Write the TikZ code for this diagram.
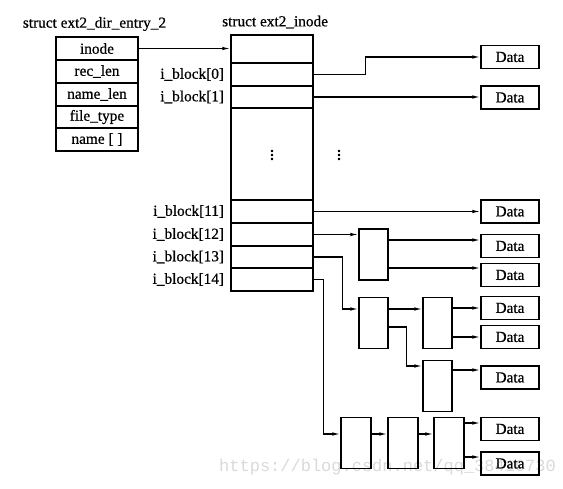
\documentclass[tikz,border=0pt]{standalone}
\usepackage{fontspec}
\setmainfont{Liberation Serif}[FakeBold=0.6]
\newfontfamily\wmfont{Liberation Mono}
\usetikzlibrary{arrows.meta,calc}
\begin{document}
\begin{tikzpicture}[x=1pt,y=-1pt,
  txt/.style={font=\fontsize{15.3}{17}\selectfont, inner sep=0pt},
  cell/.style={draw, line width=1.5pt, minimum width=82pt, inner sep=0pt, font=\fontsize{15.3}{17}\selectfont},
  ptr/.style={draw, line width=1.5pt, minimum width=29pt, minimum height=51pt, inner sep=0pt},
  databox/.style={draw, line width=1.5pt, minimum width=58pt, minimum height=23pt, inner sep=0pt, font=\fontsize{15.3}{17}\selectfont},
  dots/.style={font=\fontsize{19}{20}\selectfont\boldmath, inner sep=0pt},
  arr/.style={line width=1.2pt, -{Latex[length=8pt,width=3.6pt]}}]
\useasboundingbox (0,0) rectangle (563,489);

% watermark
\node[font=\wmfont\fontsize{17}{17}\selectfont, text=gray!30, anchor=west, inner sep=0pt] (wm) at (219,467) {https://blog.csdn.net/qq\_38410730};

% titles
\node[txt] (t1) at (94.5,24) {struct ext2\_dir\_entry\_2};
\node[txt, anchor=west] (t2) at (222,22) {struct ext2\_inode};

% dir entry
\node[cell, minimum height=23pt] (e1) at (97,48.5) {inode};
\node[cell, minimum height=23pt] (e2) at (97,71.5) {rec\_len};
\node[cell, minimum height=23pt] (e3) at (97,94.5) {name\_len};
\node[cell, minimum height=22pt] (e4) at (97,117) {file\_type};
\node[cell, minimum height=23pt] (e5) at (97,139.5) {name [ ]};

% inode
\node[cell, minimum height=28pt] (itop) at (272,49) {};
\node[cell, minimum height=23pt] (ib0) at (272,74.5) {};
\node[cell, minimum height=22pt] (ib1) at (272,97) {};
\node[cell, minimum height=92pt] (imid) at (272,154) {};
\node[cell, minimum height=23pt] (ib11) at (272,211.5) {};
\node[cell, minimum height=23pt] (ib12) at (272,234.5) {};
\node[cell, minimum height=22pt] (ib13) at (272,257) {};
\node[cell, minimum height=23pt] (ib14) at (272,279.5) {};
\node[dots] (vd1) at (272,152) {$\vdots$};
\node[dots] (vd2) at (339,152) {$\vdots$};

% labels
\foreach \n/\t in {ib0/0,ib1/1,ib11/11,ib12/12,ib13/13,ib14/14}
  \node[txt, anchor=east] (l\n) at ([xshift=-6pt]\n.west) {i\_block[\t]};

% pointer blocks
\node[ptr] (s1) at (373.5,254.5) {};
\node[ptr] (dA) at (373.5,323) {};
\node[ptr] (dB) at (437.5,323) {};
\node[ptr] (dC) at (437.5,386) {};
\node[ptr, minimum width=30pt] (tD) at (356,443) {};
\node[ptr, minimum width=30pt] (tE) at (403,443) {};
\node[ptr, minimum width=30pt] (tF) at (449,443) {};

% data blocks
\node[databox] (d0) at (510,57) {Data};
\node[databox] (d1) at (510,97.5) {Data};
\node[databox] (d11) at (510,211.5) {Data};
\node[databox] (d12a) at (510,246) {Data};
\node[databox] (d12b) at (510,275) {Data};
\node[databox] (d13a) at (510,308) {Data};
\node[databox] (d13b) at (510,337) {Data};
\node[databox] (d13c) at (510,377.5) {Data};
\node[databox] (d14a) at (510,429) {Data};
\node[databox] (d14b) at (510,463.5) {Data};

% connectors
\draw[arr] (e1.east) -- (e1.east -| itop.west);
\draw[arr] (ib0.east) -- ++(52,0) |- (d0.west);
\draw[arr] (ib1.east) -- (ib1.east -| d1.west);
\draw[arr] (ib11.east) -- (d11.west);
\draw[arr] (ib12.east) -- (ib12.east -| s1.west);
\draw[arr] ([yshift=14.5pt]s1.east) -- ([yshift=6pt]d12a.west);
\draw[arr] ([yshift=-13.5pt]s1.east) -- ([yshift=7pt]d12b.west);
\draw[arr] (ib13.east) -- ++(29,0) |- ([yshift=14pt]dA.west);
\draw[arr] ([yshift=14pt]dA.east) -- ([yshift=14pt]dB.west);
\draw[arr] ([yshift=-4pt]dA.east) -- ++(18,0) |- ([yshift=20pt]dC.west);
\draw[arr] ([yshift=15pt]dB.east) -- (d13a.west);
\draw[arr] ([yshift=-14pt]dB.east) -- (d13b.west);
\draw[arr] ([yshift=16pt]dC.east) -- ([yshift=7.5pt]d13c.west);
\draw[arr] (ib14.east) -- ++(10,0) |- ([yshift=9pt]tD.west);
\draw[arr] ([yshift=9pt]tD.east) -- ([yshift=9pt]tE.west);
\draw[arr] ([yshift=9pt]tE.east) -- ([yshift=9pt]tF.west);
\draw[arr] ([yshift=20pt]tF.east) -- ([yshift=6pt]d14a.west);
\draw[arr] ([yshift=-14pt]tF.east) -- ([yshift=6.5pt]d14b.west);
\end{tikzpicture}
\end{document}
